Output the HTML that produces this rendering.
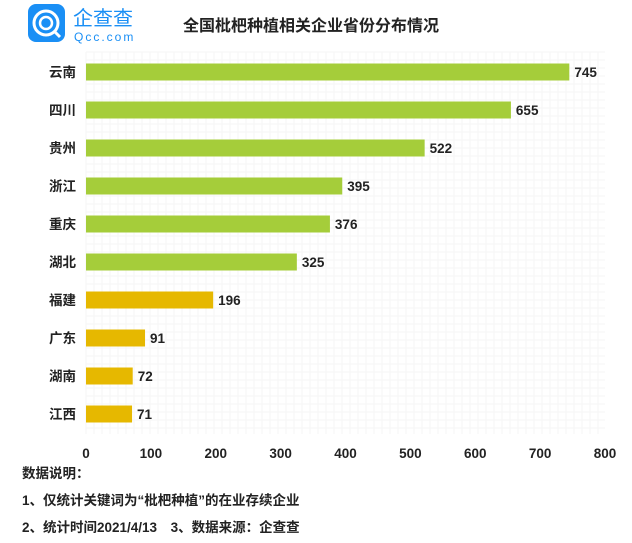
<!DOCTYPE html>
<html><head><meta charset="utf-8"><style>
body{margin:0;background:#fff;font-family:"Liberation Sans","Noto Sans CJK SC",sans-serif;}
#wrap{position:relative;width:632px;height:543px;overflow:hidden;}
</style></head><body>
<div id="wrap">
<svg width="632" height="543" style="position:absolute;left:0;top:0">
  <g>
    <rect x="28" y="4" width="37" height="38" rx="8" fill="#1a8ff5"/>
    <circle cx="46" cy="23" r="12" fill="none" stroke="#fff" stroke-width="3"/>
    <circle cx="46" cy="23" r="6" fill="none" stroke="#fff" stroke-width="2.5"/>
    <line x1="54" y1="31" x2="60" y2="37" stroke="#fff" stroke-width="3"/>
    <text x="73" y="25" font-size="20" fill="#1a8ff5" font-family="Noto Sans CJK SC, sans-serif">企查查</text>
    <text x="74" y="41" font-size="12" fill="#1a8ff5" letter-spacing="2">Qcc.com</text>
  </g>
  <text x="183" y="31" font-size="16" font-weight="bold" fill="#222">全国枇杷种植相关企业省份分布情况</text>
  <g id="grid"></g>
  <g id="bars"></g>
  <g id="xt"></g>
  <text x="22" y="478" font-size="13.5" font-weight="bold" fill="#222">数据说明：</text>
  <text x="22" y="505" font-size="13.5" font-weight="bold" fill="#222">1、仅统计关键词为“枇杷种植”的在业存续企业</text>
  <text x="22" y="532" font-size="13.5" font-weight="bold" fill="#222">2、统计时间2021/4/13　3、数据来源：企查查</text>
</svg>
</div>
<script>
const categories=["云南","四川","贵州","浙江","重庆","湖北","福建","广东","湖南","江西"];
const values=[745,655,522,395,376,325,196,91,72,71];
const ticks=[0,100,200,300,400,500,600,700,800];
const NS="http://www.w3.org/2000/svg";
const x0=86,x1=605,max=800;
const xs=v=>x0+(x1-x0)*v/max;
const ys=i=>72+i*38;
function mk(tag,attrs,parent,txt){const e=document.createElementNS(NS,tag);for(const k in attrs)e.setAttribute(k,attrs[k]);if(txt!==undefined)e.textContent=txt;parent.appendChild(e);return e;}
const grid=document.getElementById('grid');
for(let gx=x0;gx<=x1;gx+=8){mk('line',{x1:gx,y1:52,x2:gx,y2:434,stroke:'#f5f5f5','stroke-width':1},grid);}
for(let gy=52;gy<=434;gy+=8){mk('line',{x1:x0,y1:gy,x2:x1,y2:gy,stroke:'#f5f5f5','stroke-width':1},grid);}
const bars=document.getElementById('bars');
categories.forEach((c,i)=>{
  const y=ys(i);
  const r=mk('rect',{x:x0,y:y-8.5,width:xs(values[i])-x0,height:17,fill:i<6?'#a5cd3a':'#e6b800'},bars);
  
  
  const l=mk('text',{x:76,y:y+5,'font-size':13.5,'font-weight':'bold','text-anchor':'end',fill:'#222'},bars,c);
  
  
  const v=mk('text',{x:xs(values[i])+5,y:y+5,'font-size':13.5,'font-weight':'bold',fill:'#222'},bars,values[i]);
  
  
});
const xt=document.getElementById('xt');
ticks.forEach(t=>{
  const e=mk('text',{x:xs(t),y:458,'font-size':13.5,'font-weight':'bold','text-anchor':'middle',fill:'#222'},xt,t);
  
  
});
</script>
</body></html>
